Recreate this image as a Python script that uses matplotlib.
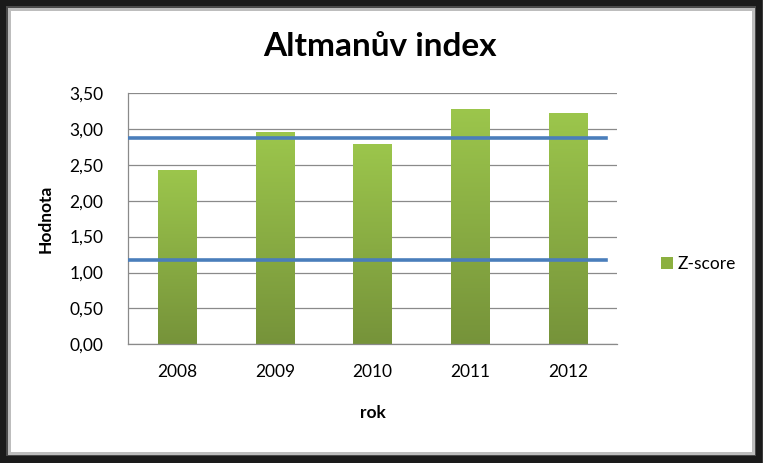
import matplotlib
matplotlib.use("Agg")
import matplotlib.pyplot as plt
import numpy as np
from matplotlib.patches import Rectangle
from matplotlib.colors import LinearSegmentedColormap

years = ["2008", "2009", "2010", "2011", "2012"]
zscore = [2.43, 2.95, 2.79, 3.28, 3.22]
upper_limit = 2.88
lower_limit = 1.17
yticks = [0.0, 0.5, 1.0, 1.5, 2.0, 2.5, 3.0, 3.5]

plt.rcParams['font.family'] = ['Lato', 'DejaVu Sans']

W, H = 763, 463
fig = plt.figure(figsize=(W / 100, H / 100), dpi=100)

# frame
fig.patches.append(Rectangle((0, 0), 1, 1, transform=fig.transFigure,
                             facecolor="#3a3a3a", edgecolor="none", zorder=-10))
fig.patches.append(Rectangle((0, 0), 1 - 1 / W, 1, transform=fig.transFigure,
                             facecolor="#1a1a1a", edgecolor="none", zorder=-9))
fig.patches.append(Rectangle((6 / W, 7 / H), 1 - 13 / W, 1 - 13 / H, transform=fig.transFigure,
                             facecolor="#4a4a4a", edgecolor="none", zorder=-9))
fig.patches.append(Rectangle((8 / W, 8 / H), 1 - 16 / W, 1 - 16 / H, transform=fig.transFigure,
                             facecolor="#bdbdbd", edgecolor="none", zorder=-8))
fig.patches.append(Rectangle((11 / W, 11 / H), 1 - 22 / W, 1 - 22 / H, transform=fig.transFigure,
                             facecolor="white", edgecolor="none", zorder=-7))

ax = fig.add_axes([128.3 / W, 1 - 344.3 / H, 488.4 / W, 251.3 / H])
ax.set_facecolor("none")
x = np.arange(len(years))
bars = ax.bar(x, zscore, width=0.39, color="#8cb040", zorder=2, label="Z-score")

cmap = LinearSegmentedColormap.from_list("g", ["#76933a", "#9cc64c"])
grad = np.linspace(0, 1, 256).reshape(-1, 1)
for b in bars:
    x0, w, h = b.get_x(), b.get_width(), b.get_height()
    im = ax.imshow(grad, extent=(x0, x0 + w, 0, h), origin="lower", cmap=cmap,
                   aspect="auto", zorder=2.5)
    im.set_clip_path(b)

ax.axhline(upper_limit, color="#4a7ebb", lw=2.6, zorder=3, xmin=0.002, xmax=0.978)
ax.axhline(lower_limit, color="#4a7ebb", lw=2.6, zorder=3, xmin=0.002, xmax=0.978)

ax.set_xlim(-0.5, len(years) - 0.5)
ax.set_ylim(0, 3.5)
ax.set_yticks(yticks)
ax.set_yticklabels([f"{v:.2f}".replace(".", ",") for v in yticks], fontsize=12.5)
ax.set_xticks(x)
ax.set_xticklabels(years, fontsize=12.5)
ax.tick_params(axis="y", length=0, pad=18)
ax.tick_params(axis="x", length=0, pad=14)
ax.yaxis.grid(True, color="#8a8a8a", lw=0.9, zorder=0)
ax.set_axisbelow(True)
for s in ["top", "right"]:
    ax.spines[s].set_visible(False)
for s in ["left", "bottom"]:
    ax.spines[s].set_color("#8a8a8a")
    ax.spines[s].set_linewidth(0.9)

ax.set_ylabel("Hodnota", fontsize=12.5, fontweight="bold", labelpad=11)
ax.set_xlabel("rok", fontsize=12.5, fontweight="bold", labelpad=18)

fig.text(380 / W, 1 - 47 / H, "Altmanův index", fontsize=24, fontweight="bold",
         ha="center", va="center")

leg = ax.legend(handles=[bars], loc="center left", bbox_to_anchor=(645 / W, 1 - 264 / H),
                bbox_transform=fig.transFigure, frameon=False, fontsize=12.5,
                handlelength=0.7, handleheight=0.7, handletextpad=0.3)

fig.savefig("out.png", dpi=100)
